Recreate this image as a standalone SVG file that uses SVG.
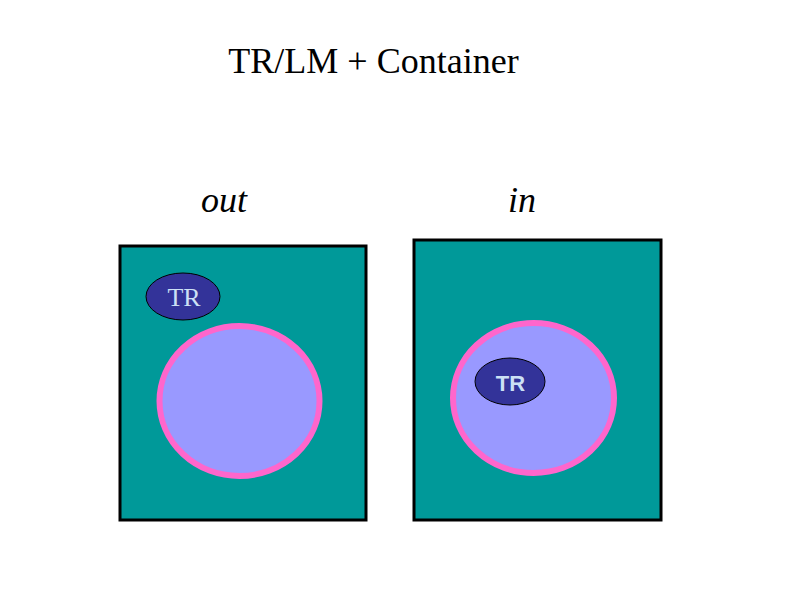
<svg xmlns="http://www.w3.org/2000/svg" width="800" height="600" viewBox="0 0 800 600">
<style>
.box{fill:#009999;stroke:#000;stroke-width:3}
.cell{fill:#9999ff;stroke:#ff66cc;stroke-width:6}
.tr{fill:#333399;stroke:#000;stroke-width:1}
.t{font-family:"Liberation Serif",serif;fill:#000}
.lbl{fill:#cce0f5}
</style>
<rect width="800" height="600" fill="#fff"/>
<text class="t" x="373.5" y="73" font-size="36" text-anchor="middle">TR/LM + Container</text>
<text class="t" x="224" y="212" font-size="36" font-style="italic" text-anchor="middle">out</text>
<text class="t" x="522" y="212" font-size="36" font-style="italic" text-anchor="middle">in</text>
<g id="out">
<rect class="box" x="120" y="246" width="246" height="274"/>
<ellipse class="cell" cx="239.5" cy="401" rx="80" ry="75"/>
<g id="tr-out">
<ellipse class="tr" cx="183" cy="296.5" rx="37" ry="23.5"/>
<text class="lbl" x="184" y="306" font-size="26" text-anchor="middle" font-family="Liberation Serif,serif">TR</text>
</g>
</g>
<g id="in">
<rect class="box" x="414" y="240" width="247" height="280"/>
<ellipse class="cell" cx="533.5" cy="398" rx="80.5" ry="75"/>
<g id="tr-in">
<ellipse class="tr" cx="510" cy="381.5" rx="35" ry="23.5"/>
<text class="lbl" x="510.5" y="391" font-size="22" font-weight="bold" text-anchor="middle" font-family="Liberation Sans,sans-serif">TR</text>
</g>
</g>
</svg>
